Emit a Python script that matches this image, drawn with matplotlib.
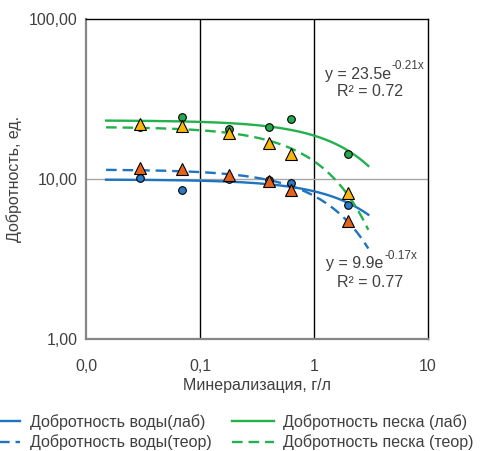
import numpy as np
import matplotlib
matplotlib.use("Agg")
import matplotlib.pyplot as plt
from matplotlib.lines import Line2D
from matplotlib.ticker import FixedLocator, FixedFormatter, NullLocator

plt.rcParams['font.family'] = ['Liberation Sans', 'DejaVu Sans']

# mineralization, g/l
mineral = [0.03, 0.07, 0.18, 0.4, 0.63, 2.0]
water_lab = [10.1, 8.5, 10.0, 9.85, 9.4, 6.9]
water_teor = [11.8, 11.5, 10.6, 9.7, 8.5, 5.5]
sand_lab = [21.1, 24.4, 20.6, 21.1, 23.8, 14.4]
sand_teor = [22.0, 21.3, 19.4, 16.7, 14.3, 8.15]

xticks = [0.01, 0.1, 1, 10]
xtick_labels = ["0,0", "0,1", "1", "10"]
yticks = [1, 10, 100]
ytick_labels = ["1,00", "10,00", "100,00"]

eq_sand = ("y = 23.5e", "-0.21x")
r2_sand = "R² = 0.72"
eq_water = ("y = 9.9e", "-0.17x")
r2_water = "R² = 0.77"

BLUE = "#1f74c0"
GREEN = "#22b14c"
ORANGE = "#e2641c"
YELLOW = "#f8b70c"
TXT = "#404040"
FS = 11.5


def exp_fit(x, y):
    # excel-style exponential trendline: ln(y) = ln(a) + b*x
    b, lna = np.polyfit(np.asarray(x), np.log(np.asarray(y)), 1)
    return np.exp(lna), b


def equation(ax, x, y, parts):
    base, sup = parts
    t = ax.text(x, y, base, ha='right', va='center', fontsize=FS, color=TXT)
    ax.annotate(sup, xy=(x, y), xytext=(0.5, 6), textcoords='offset points',
                ha='left', va='center', fontsize=8.5, color=TXT)
    return t


fig = plt.figure(figsize=(4.97, 4.51), dpi=100)
ax = fig.add_axes([0.173, 0.248, 0.688, 0.71])
ax.set_xscale('log')
ax.set_yscale('log')
ax.set_xlim(0.01, 10)
ax.set_ylim(1, 100)

# grid lines
ax.axvline(0.1, color='black', lw=1.0, zorder=1)
ax.axvline(1, color='black', lw=1.0, zorder=1)
ax.axhline(10, color='#a6a6a6', lw=1.0, zorder=1)

xs = np.geomspace(0.015, 3.0, 200)
series = [
    (water_lab, BLUE, '-', "Добротность воды(лаб)"),
    (water_teor, BLUE, (0, (4.5, 2.5)), "Добротность воды(теор)"),
    (sand_lab, GREEN, '-', "Добротность песка (лаб)"),
    (sand_teor, GREEN, (0, (4.5, 2.5)), "Добротность песка (теор)"),
]
handles = []
for ys, col, ls, lab in series:
    a, b = exp_fit(mineral, ys)
    ax.plot(xs, a * np.exp(b * xs), color=col, ls=ls, lw=1.7, zorder=2)
    handles.append(Line2D([], [], color=col, ls=ls, lw=1.7, label=lab))

# data points
ax.plot(mineral, water_lab, 'o', ms=5.5, mfc="#2a7ac4", mec='black', mew=0.8, zorder=3)
ax.plot(mineral, sand_lab, 'o', ms=5.5, mfc="#25a94c", mec='black', mew=0.8, zorder=3)
ax.plot(mineral, water_teor, '^', ms=8, mfc=ORANGE, mec='black', mew=0.8, zorder=4)
ax.plot(mineral, sand_teor, '^', ms=8, mfc=YELLOW, mec='black', mew=0.8, zorder=4)

# trendline equations
equation(ax, 4.75, 45.0, eq_sand)
ax.text(3.1, 35.0, r2_sand, ha='center', va='center', fontsize=FS, color=TXT)
equation(ax, 4.1, 2.95, eq_water)
ax.text(3.1, 2.25, r2_water, ha='center', va='center', fontsize=FS, color=TXT)

ax.xaxis.set_major_locator(FixedLocator(xticks))
ax.xaxis.set_major_formatter(FixedFormatter(xtick_labels))
ax.xaxis.set_minor_locator(NullLocator())
ax.yaxis.set_major_locator(FixedLocator(yticks))
ax.yaxis.set_major_formatter(FixedFormatter(ytick_labels))
ax.yaxis.set_minor_locator(NullLocator())
ax.tick_params(length=0, labelsize=FS, labelcolor=TXT)
ax.tick_params(axis='x', pad=14)
ax.tick_params(axis='y', pad=6)

for s in ['left', 'bottom']:
    ax.spines[s].set_color('#868686')
    ax.spines[s].set_linewidth(1.6)
for s in ['top', 'right']:
    ax.spines[s].set_color('black')
    ax.spines[s].set_linewidth(1.0)

ax.set_xlabel("Минерализация, г/л", fontsize=FS, color=TXT, labelpad=3)
ax.set_ylabel("Добротность, ед.", fontsize=FS, color=TXT, labelpad=5)

fig.legend(handles=handles, ncol=2, loc='center', bbox_to_anchor=(0.455, 0.042),
           frameon=False, fontsize=FS, handlelength=2.6, handletextpad=0.6,
           columnspacing=1.3, labelspacing=0.3, labelcolor=TXT)

fig.savefig("out.png", dpi=100)
